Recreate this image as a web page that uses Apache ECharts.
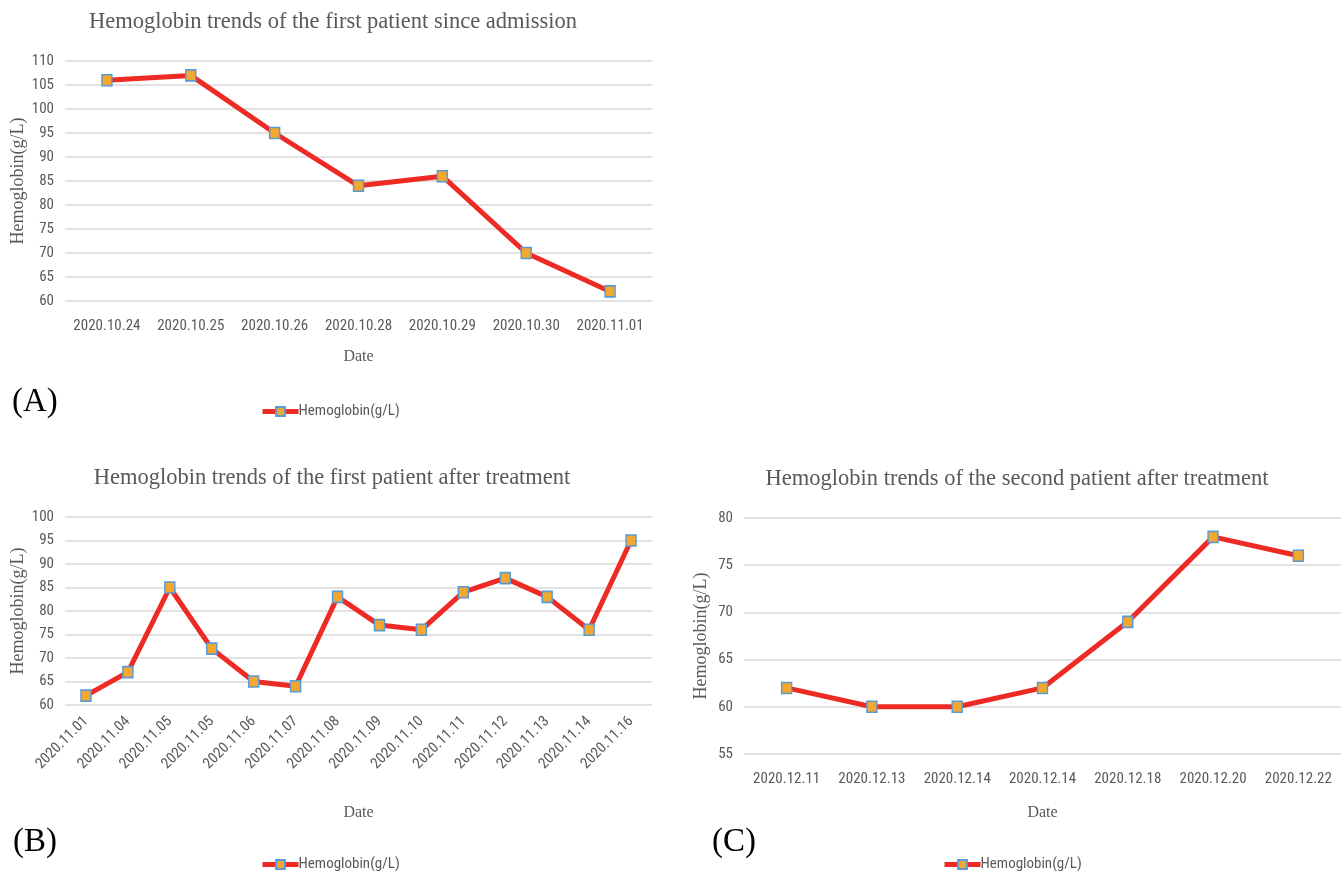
<!DOCTYPE html>
<html><head><meta charset="utf-8">
<script src="https://cdn.jsdelivr.net/npm/echarts@6/dist/echarts.min.js"></script>
<style>html,body{margin:0;padding:0;background:#fff}#c{width:1343px;height:875px}</style>
</head><body><div id="c"></div>
<script>
const datesA = ['2020.10.24','2020.10.25','2020.10.26','2020.10.28','2020.10.29','2020.10.30','2020.11.01'];
const valuesA = [106,107,95,84,86,70,62];
const datesB = ['2020.11.01','2020.11.04','2020.11.05','2020.11.05','2020.11.06','2020.11.07','2020.11.08','2020.11.09','2020.11.10','2020.11.11','2020.11.12','2020.11.13','2020.11.14','2020.11.16'];
const valuesB = [62,67,85,72,65,64,83,77,76,84,87,83,76,95];
const datesC = ['2020.12.11','2020.12.13','2020.12.14','2020.12.14','2020.12.18','2020.12.20','2020.12.22'];
const valuesC = [62,60,60,62,69,78,76];
const titles = ['Hemoglobin trends of the first patient since admission','Hemoglobin trends of the first patient after treatment','Hemoglobin trends of the second patient after treatment'];
const seriesName = 'Hemoglobin(g/L)';

const narrow = '"Liberation Sans Narrow","Arial Narrow","Roboto Condensed",Roboto,sans-serif';
const serif = '"Liberation Serif","Times New Roman",serif';
const gray = '#595959';

const grids = [
  {left:65, top:61, width:587, height:240},
  {left:65, top:517, width:587, height:188},
  {left:744, top:518, width:597, height:236}
];
function xAx(i, data, gap, rot, margin){
  return {type:'category', gridIndex:i, data:data, boundaryGap:true,
    axisLine:{show:false}, axisTick:{show:false},
    axisLabel:{color:gray, fontFamily:narrow, fontSize:15, margin:margin, rotate:rot||0, interval:0},
    name:'Date', nameLocation:'middle', nameGap:gap,
    nameTextStyle:{color:gray, fontFamily:serif, fontSize:16}};
}
function yAx(i, min, max, gap){
  return {type:'value', gridIndex:i, min:min, max:max, interval:5,
    axisLine:{show:false}, axisTick:{show:false},
    axisLabel:{color:gray, fontFamily:narrow, fontSize:15, margin:11},
    splitLine:{lineStyle:{color:'#D9D9D9', width:1.5}},
    name:seriesName, nameLocation:'middle', nameRotate:90, nameGap:gap,
    nameTextStyle:{color:gray, fontFamily:serif, fontSize:18}};
}
function ser(i, vals){
  return {name:seriesName, type:'line', xAxisIndex:i, yAxisIndex:i, data:vals,
    symbol:'rect', symbolSize:[10,11], showSymbol:true,
    lineStyle:{color:'#EE2A24', width:5},
    itemStyle:{color:'#F2A72E', borderColor:'#5B9BD5', borderWidth:1.5},
    z:3};
}
function leg(left, top){
  return {left:left, top:top, data:[seriesName], itemWidth:36, itemHeight:11, itemGap:0,
    lineStyle:{width:5, color:'#EE2A24'},
    textStyle:{color:gray, fontFamily:narrow, fontSize:15, padding:[0,0,0,-5]}, selectedMode:false};
}
const chart = echarts.init(document.getElementById('c'));
chart.setOption({
  backgroundColor:'#fff',
  animation:false,
  title:[
    {text:titles[0], left:328, top:6, textAlign:'center', textStyle:{color:gray, fontFamily:serif, fontSize:22.5, fontWeight:'normal'}},
    {text:titles[1], left:327, top:462, textAlign:'center', textStyle:{color:gray, fontFamily:serif, fontSize:22.5, fontWeight:'normal'}},
    {text:titles[2], left:1012, top:463, textAlign:'center', textStyle:{color:gray, fontFamily:serif, fontSize:22.5, fontWeight:'normal'}}
  ],
  grid:grids,
  xAxis:[xAx(0,datesA,48,0,18), xAx(1,datesB,100,45,14), xAx(2,datesC,51,0,18)],
  yAxis:[yAx(0,60,110,38), yAx(1,60,100,38), yAx(2,55,80,34)],
  legend:[leg(255,399), leg(255,852), leg(937,852)],
  series:[ser(0,valuesA), ser(1,valuesB), ser(2,valuesC)],
  graphic:[
    {type:'text', left:12, top:386, style:{text:'(A)', font:'33px "Liberation Serif", serif', fill:'#000'}},
    {type:'text', left:13, top:826, style:{text:'(B)', font:'33px "Liberation Serif", serif', fill:'#000'}},
    {type:'text', left:712, top:826, style:{text:'(C)', font:'33px "Liberation Serif", serif', fill:'#000'}}
  ]
});
</script></body></html>
